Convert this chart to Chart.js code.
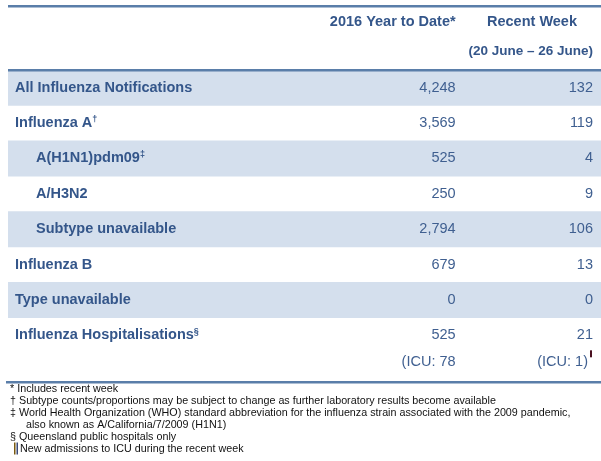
<!DOCTYPE html>
<html>
<head>
<meta charset="utf-8">
<script src="https://cdn.jsdelivr.net/npm/chart.js@4"></script>
<style>
  html, body { margin: 0; padding: 0; background: #fff; }
  #wrap { width: 601px; height: 461px; position: relative; }
</style>
</head>
<body>
<div id="wrap"><canvas id="chart"></canvas></div>
<script>
// Table data
const rowLabels = ['All Influenza Notifications', 'Influenza A', 'A(H1N1)pdm09', 'A/H3N2',
    'Subtype unavailable', 'Influenza B', 'Type unavailable', 'Influenza Hospitalisations'];
const rowMarks = ['', '†', '‡', '', '', '', '', '§'];
const rowIndent = [0, 0, 1, 1, 1, 0, 0, 0];
const yearToDate = [4248, 3569, 525, 250, 2794, 679, 0, 525];
const recentWeek = [132, 119, 4, 9, 106, 13, 0, 21];
const shadedRows = [1, 0, 1, 0, 1, 0, 1, 0];
const icuValues = ['(ICU: 78', '(ICU: 1)'];
const columnHeaders = ['2016 Year to Date*', 'Recent Week'];
const weekRange = '(20 June – 26 June)';
const footnotes = [
    '* Includes recent week',
    '† Subtype counts/proportions may be subject to change as further laboratory results become available',
    '‡ World Health Organization (WHO) standard abbreviation for the influenza strain associated with the 2009 pandemic,',
    'also known as A/California/7/2009 (H1N1)',
    '§ Queensland public hospitals only',
    'New admissions to ICU during the recent week'
];
const footnoteIndent = [10, 10, 10, 26, 10, 20];

const FONT = "'Liberation Sans', Arial, sans-serif";
const BLUE = '#34568a';
const NUM = '#3f5f90';
const RULE = '#5a7ea9';

const fmt = v => v.toLocaleString('en-US');

// Draws the texts and rules of the table
const tablePlugin = {
    id: 'tableText',
    afterDatasetsDraw(chart) {
        const ctx = chart.ctx;
        const x = chart.scales.x;
        const y = chart.scales.y;
        const area = chart.chartArea;
        const col1 = x.getPixelForValue(0.7548);
        const col2 = x.getPixelForValue(0.9865);

        ctx.save();
        ctx.textBaseline = 'middle';

        // rules
        ctx.fillStyle = RULE;
        ctx.fillRect(area.left, 5, area.right - area.left, 2.5);
        ctx.fillRect(area.left, area.top - 1, area.right - area.left, 2.5);
        ctx.fillRect(6, area.bottom + 28, area.right - 6, 2.5);

        // header
        ctx.fillStyle = BLUE;
        ctx.font = 'bold 14.5px ' + FONT;
        ctx.textAlign = 'right';
        ctx.fillText(columnHeaders[0], col1, 22);
        ctx.textAlign = 'center';
        ctx.fillText(columnHeaders[1], 532, 22);
        ctx.font = 'bold 13.5px ' + FONT;
        ctx.textAlign = 'right';
        ctx.fillText(weekRange, col2, 51);

        // rows
        rowLabels.forEach((label, i) => {
            const py = y.getPixelForValue(i);
            const lx = rowIndent[i] ? 36 : 15;
            ctx.fillStyle = BLUE;
            ctx.font = 'bold 14.5px ' + FONT;
            ctx.textAlign = 'left';
            ctx.fillText(label, lx, py);
            if (rowMarks[i]) {
                const w = ctx.measureText(label).width;
                ctx.font = 'bold 9px ' + FONT;
                ctx.fillText(rowMarks[i], lx + w, py - 4);
            }
            ctx.fillStyle = NUM;
            ctx.font = '14.5px ' + FONT;
            ctx.textAlign = 'right';
            ctx.fillText(fmt(yearToDate[i]), col1, py);
            ctx.fillText(fmt(recentWeek[i]), col2, py);
        });

        // ICU line under hospitalisations
        const icuY = y.getPixelForValue(rowLabels.length - 1) + 27;
        ctx.fillStyle = NUM;
        ctx.font = '14.5px ' + FONT;
        ctx.textAlign = 'right';
        ctx.fillText(icuValues[0], col1, icuY);
        ctx.fillText(icuValues[1], col2 - 5, icuY);
        ctx.fillStyle = '#4a1020';
        ctx.fillRect(col2 - 3, icuY - 12, 2, 7);

        // footnotes, slightly condensed like the source
        ctx.fillStyle = '#111';
        ctx.font = '11.5px ' + FONT;
        ctx.textAlign = 'left';
        footnotes.forEach((line, i) => {
            const fy = area.bottom + 36 + i * 11.9;
            ctx.save();
            ctx.translate(footnoteIndent[i], fy);
            ctx.scale(0.935, 1);
            ctx.fillText(line, 0, 0);
            ctx.restore();
        });
        const fy = area.bottom + 36 + 5 * 11.9;
        ctx.fillStyle = '#7a5a10';
        ctx.fillRect(14, fy - 6, 1.5, 12);
        ctx.fillStyle = '#3a4a7a';
        ctx.fillRect(16.5, fy - 6, 1.5, 12);
        ctx.restore();
    }
};

new Chart(document.getElementById('chart'), {
    type: 'bar',
    data: {
        labels: rowLabels,
        datasets: [{
            data: shadedRows.map(s => s ? [0, 1] : null),
            backgroundColor: '#d4dfed',
            borderWidth: 0,
            barPercentage: 1,
            categoryPercentage: 1
        }]
    },
    options: {
        indexAxis: 'y',
        responsive: true,
        maintainAspectRatio: false,
        animation: false,
        events: [],
        layout: { padding: { top: 70, bottom: 108, left: 8, right: 0 } },
        scales: {
            x: { type: 'linear', min: 0, max: 1, display: false },
            y: { type: 'category', display: false }
        },
        plugins: {
            legend: { display: false },
            tooltip: { enabled: false }
        }
    },
    plugins: [tablePlugin]
});
</script>
</body>
</html>
